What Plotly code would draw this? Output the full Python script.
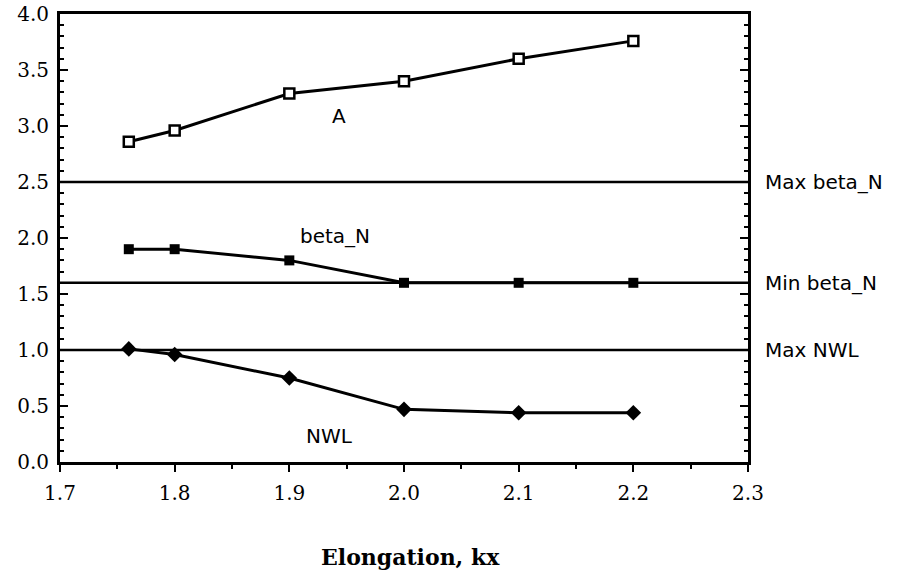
import plotly.graph_objects as go

kx = [1.76, 1.8, 1.9, 2.0, 2.1, 2.2]
A = [2.86, 2.96, 3.29, 3.40, 3.60, 3.76]
beta_N = [1.90, 1.90, 1.80, 1.60, 1.60, 1.60]
NWL = [1.01, 0.96, 0.75, 0.47, 0.44, 0.44]

limits = {"Max beta_N": 2.5, "Min beta_N": 1.6, "Max NWL": 1.0}
x_range = [1.7, 2.3]
y_range = [0.0, 4.0]

serif = "DejaVu Serif"
sans = "DejaVu Sans"

fig = go.Figure()

for name, val in limits.items():
    fig.add_trace(go.Scatter(x=x_range, y=[val, val], mode="lines",
                             line=dict(color="black", width=2.5),
                             showlegend=False, hoverinfo="skip", cliponaxis=False))

fig.add_trace(go.Scatter(x=kx, y=A, mode="lines+markers",
                         line=dict(color="black", width=3),
                         marker=dict(symbol="square", size=10, color="white",
                                     line=dict(color="black", width=2.5)),
                         showlegend=False))
fig.add_trace(go.Scatter(x=kx, y=beta_N, mode="lines+markers",
                         line=dict(color="black", width=3),
                         marker=dict(symbol="square", size=10, color="black"),
                         showlegend=False))
fig.add_trace(go.Scatter(x=kx, y=NWL, mode="lines+markers",
                         line=dict(color="black", width=3),
                         marker=dict(symbol="diamond", size=12, color="black"),
                         showlegend=False))

# curve labels
curve_labels = [("A", 1.943, 3.09), ("beta_N", 1.94, 2.02), ("NWL", 1.935, 0.23)]
for txt, x, y in curve_labels:
    fig.add_annotation(x=x, y=y, text=txt, showarrow=False,
                       font=dict(family=sans, size=20, color="black"))

for name, val in limits.items():
    fig.add_annotation(x=1.0, xref="paper", y=val, yref="y", text=name,
                       xanchor="left", xshift=15, showarrow=False,
                       font=dict(family=sans, size=20, color="black"))

fig.add_annotation(x=0.509, xref="paper", y=0, yref="paper", yanchor="middle",
                   yshift=-95, text="<b>Elongation, kx</b>", showarrow=False,
                   font=dict(family=serif, size=22, color="black"))

fig.update_xaxes(range=x_range, dtick=0.1, tick0=1.7, tickformat=".1f",
                 ticks="outside", ticklen=7, tickwidth=2, tickcolor="black",
                 minor=dict(dtick=0.05, ticks="outside", ticklen=4, tickwidth=2, tickcolor="black"),
                 showline=True, linecolor="black", linewidth=3, mirror=True,
                 showgrid=False, zeroline=False, automargin=False,
                 ticklabelstandoff=4,
                 tickfont=dict(family=serif, size=20, color="black"))
fig.update_yaxes(range=y_range, dtick=0.5, tick0=0, tickformat=".1f",
                 ticks="inside", ticklen=8, tickwidth=2, tickcolor="black",
                 minor=dict(dtick=0.1, ticks="inside", ticklen=4, tickwidth=2, tickcolor="black"),
                 showline=True, linecolor="black", linewidth=3, mirror="ticks",
                 showgrid=False, zeroline=False, automargin=False,
                 ticklabelstandoff=4,
                 tickfont=dict(family=serif, size=20, color="black"))

fig.update_layout(width=903, height=575,
                  margin=dict(l=60, r=155, t=14, b=113, autoexpand=False),
                  plot_bgcolor="white", paper_bgcolor="white")

fig.write_html("out.html")
